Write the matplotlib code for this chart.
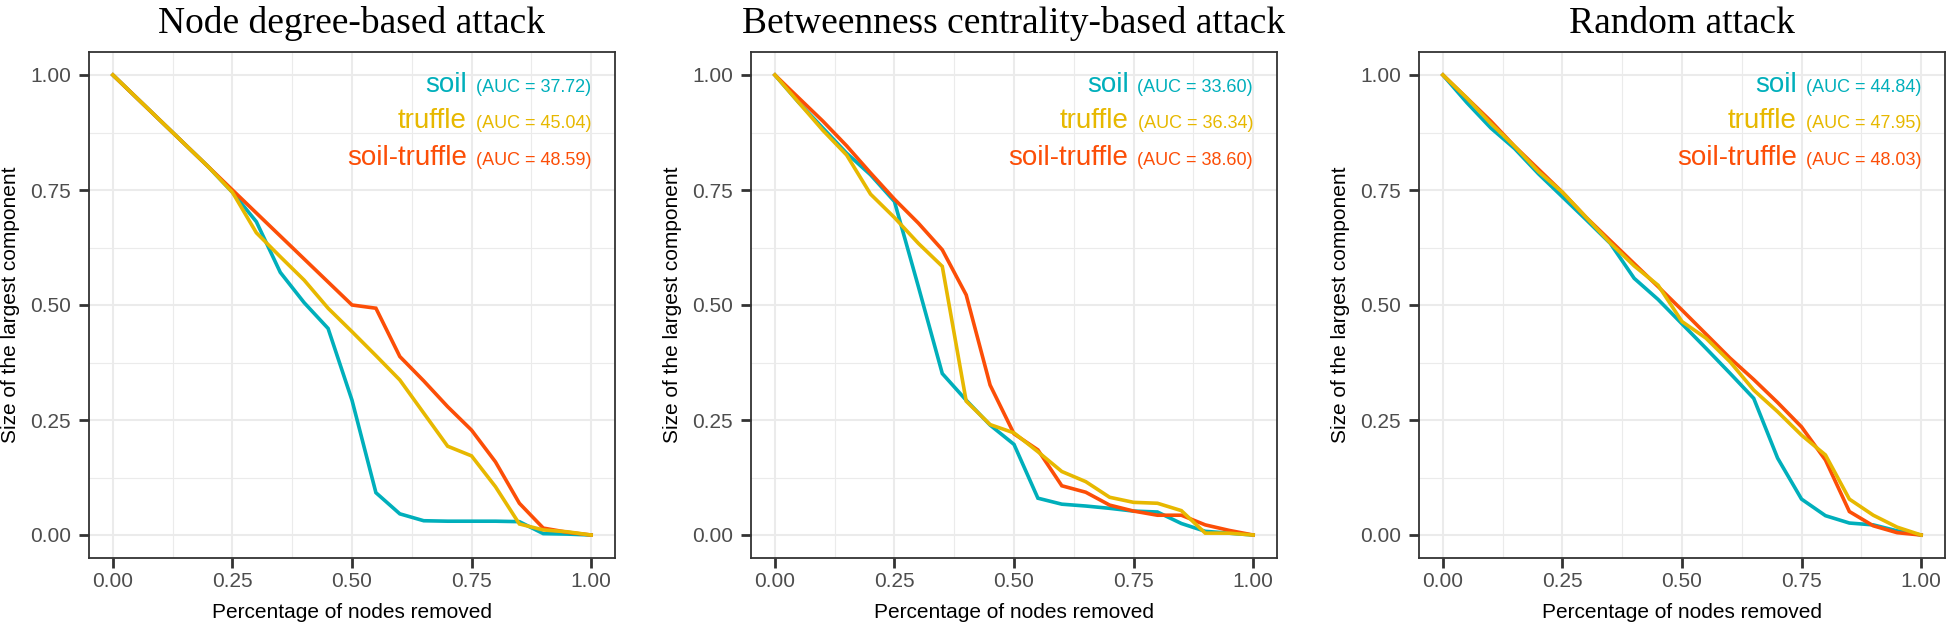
import matplotlib
matplotlib.use('Agg')
import matplotlib.pyplot as plt
from matplotlib.ticker import MultipleLocator, FormatStrFormatter
from matplotlib.transforms import offset_copy

x_removed = [0.00, 0.05, 0.10, 0.15, 0.20, 0.25, 0.30, 0.35, 0.40, 0.45, 0.50,
             0.55, 0.60, 0.65, 0.70, 0.75, 0.80, 0.85, 0.90, 0.95, 1.00]

titles = ["Node degree-based attack", "Betweenness centrality-based attack", "Random attack"]
series_names = ["soil", "truffle", "soil-truffle"]
colors = {"soil": "#00AFBB", "truffle": "#E7B800", "soil-truffle": "#FC4E07"}

degree_soil = [1, .95, .90, .85, .80, .745, .681, .571, .505, .449, .293, .092, .046, .031, .030, .030, .030, .029, .003, .002, 0]
degree_truffle = [1, .95, .90, .85, .80, .745, .657, .605, .554, .493, .442, .39, .337, .265, .193, .172, .105, .024, .011, .007, 0]
degree_soiltruffle = [1, .95, .90, .85, .80, .75, .70, .65, .60, .55, .50, .493, .388, .335, .279, .228, .159, .069, .015, .006, 0]

betw_soil = [1, .94, .885, .83, .783, .725, .54, .351, .293, .239, .197, .08, .067, .063, .058, .052, .05, .025, .008, .004, 0]
betw_truffle = [1, .94, .88, .826, .741, .69, .634, .584, .291, .24, .222, .181, .138, .116, .082, .071, .069, .053, .004, .004, 0]
betw_soiltruffle = [1, .95, .90, .846, .787, .73, .678, .62, .522, .326, .22, .185, .107, .093, .065, .052, .043, .043, .022, .01, 0]

rand_soil = [1, .94, .885, .84, .785, .735, .685, .634, .558, .512, .459, .406, .352, .297, .167, .078, .042, .026, .022, .009, 0]
rand_truffle = [1, .95, .895, .845, .79, .745, .69, .635, .585, .543, .464, .428, .377, .315, .268, .217, .174, .078, .043, .017, 0]
rand_soiltruffle = [1, .95, .90, .845, .795, .745, .69, .64, .59, .54, .489, .437, .385, .338, .288, .235, .163, .051, .02, .005, 0]

auc_degree = ["37.72", "45.04", "48.59"]
auc_betw = ["33.60", "36.34", "38.60"]
auc_rand = ["44.84", "47.95", "48.03"]

panels = [
    {"soil": degree_soil, "truffle": degree_truffle, "soil-truffle": degree_soiltruffle, "auc": auc_degree},
    {"soil": betw_soil, "truffle": betw_truffle, "soil-truffle": betw_soiltruffle, "auc": auc_betw},
    {"soil": rand_soil, "truffle": rand_truffle, "soil-truffle": rand_soiltruffle, "auc": auc_rand},
]

W, H = 1946, 625
fig = plt.figure(figsize=(W / 100, H / 100), dpi=100)
lefts = [89, 751, 1419]
ax_w = 526
ax_top, ax_bot = 52, 558

sans = ['Liberation Sans', 'DejaVu Sans']
serif = ['Liberation Serif', 'DejaVu Serif']

axes = []
for i, p in enumerate(panels):
    ax = fig.add_axes([lefts[i] / W, 1 - ax_bot / H, ax_w / W, (ax_bot - ax_top) / H])
    axes.append(ax)
    ax.set_xlim(-0.05, 1.05)
    ax.set_ylim(-0.05, 1.05)
    for a in (ax.xaxis, ax.yaxis):
        a.set_major_locator(MultipleLocator(0.25))
        a.set_minor_locator(MultipleLocator(0.125))
        a.set_major_formatter(FormatStrFormatter('%.2f'))
    ax.grid(which='major', color='#EBEBEB', lw=1.5)
    ax.grid(which='minor', color='#EBEBEB', lw=0.8)
    ax.set_axisbelow(True)
    for s in ax.spines.values():
        s.set_color('#333333')
        s.set_linewidth(1.3)
    ax.tick_params(which='major', direction='out', length=7, width=2, color='#333333',
                   labelsize=15, labelcolor='#4D4D4D')
    ax.tick_params(axis='x', which='major', pad=3)
    ax.tick_params(axis='y', which='major', pad=6)
    ax.tick_params(which='minor', length=0)
    for lab in ax.get_xticklabels() + ax.get_yticklabels():
        lab.set_fontfamily(sans)
    for name in ["soil", "soil-truffle", "truffle"]:
        ax.plot(x_removed, p[name], color=colors[name], lw=2.6, solid_joinstyle='miter')
    ax.set_title(titles[i], fontfamily=serif, fontsize=27, pad=14)
    ax.set_xlabel("Percentage of nodes removed", fontfamily=sans, fontsize=15, labelpad=9)
    ax.set_ylabel("Size of the largest component", fontfamily=sans, fontsize=15, labelpad=7)

fig.canvas.draw()
renderer = fig.canvas.get_renderer()
row_y = [0.963, 0.884, 0.804]
for i, p in enumerate(panels):
    ax = axes[i]
    for j, name in enumerate(series_names):
        t = ax.text(1.0, row_y[j], "(AUC = %s)" % p["auc"][j], ha='right', va='baseline',
                    color=colors[name], fontsize=13, fontfamily=sans)
        w = t.get_window_extent(renderer).width
        tr = offset_copy(ax.transData, fig=fig, x=-(w + 9) * 72 / fig.dpi, y=0, units='points')
        ax.text(1.0, row_y[j], name, ha='right', va='baseline', color=colors[name],
                fontsize=20, fontfamily=sans, transform=tr)

fig.savefig("out.png", dpi=100)
